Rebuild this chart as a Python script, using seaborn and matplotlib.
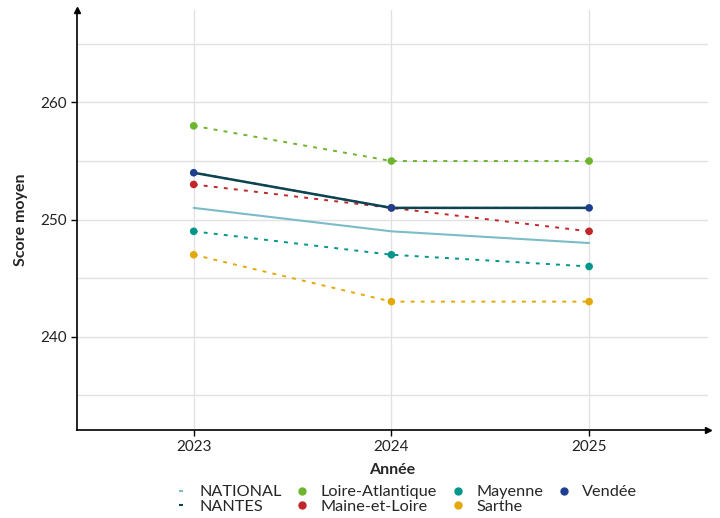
import numpy as np
import pandas as pd
import matplotlib
matplotlib.use('Agg')
import matplotlib.pyplot as plt
from matplotlib.lines import Line2D
from matplotlib.ticker import MultipleLocator
import seaborn as sns

years = [2023, 2024, 2025]
national = [251, 249, 248]
nantes = [254, 251, 251]
loire_atlantique = [258, 255, 255]
maine_et_loire = [253, 251, 249]
mayenne = [249, 247, 246]
vendee = [254, 251, 251]
sarthe = [247, 243, 243]

# (label, values, colour, is_department)
series = [
    ('Loire-Atlantique', loire_atlantique, '#6cb52d', True),
    ('Maine-et-Loire', maine_et_loire, '#c1262a', True),
    ('Mayenne', mayenne, '#00968a', True),
    ('Vendée', vendee, '#1e3f8f', True),
    ('Sarthe', sarthe, '#e3a90a', True),
    ('NATIONAL', national, '#7bbcc8', False),
    ('NANTES', nantes, '#0d4450', False),
]

sns.set_theme(style='white')
plt.rcParams['font.family'] = ['Lato', 'DejaVu Sans']

fig = plt.figure(figsize=(7.2, 5.18), dpi=100)
ax = fig.add_axes([0.107, 0.17, 0.876, 0.811])

for name, vals, col, dept in series:
    df = pd.DataFrame({'year': years, 'score': vals})
    if dept:
        sns.lineplot(data=df, x='year', y='score', ax=ax, color=col, lw=1.4,
                     dashes=False, linestyle=(0, (2.0, 3.2)), zorder=3)
        sns.scatterplot(data=df, x='year', y='score', ax=ax, color=col, s=30,
                        edgecolor='none', zorder=5)
    else:
        sns.lineplot(data=df, x='year', y='score', ax=ax, color=col,
                     lw=1.5 if name == 'NATIONAL' else 1.8, zorder=4)

ax.set_xlim(2022.41, 2025.6)
ax.set_ylim(232.05, 267.9)
ax.set_xticks(years)
ax.set_xticklabels([str(y) for y in years])
ax.yaxis.set_major_locator(MultipleLocator(10))
ax.yaxis.set_minor_locator(MultipleLocator(5))
ax.grid(True, which='major', color='#e2e2e2', lw=1.0)
ax.grid(True, which='minor', axis='y', color='#e2e2e2', lw=1.0)
ax.set_axisbelow(True)

for s in ['top', 'right']:
    ax.spines[s].set_visible(False)
for s in ['left', 'bottom']:
    ax.spines[s].set_color('black')
    ax.spines[s].set_linewidth(1.2)
ax.plot(1, 0, '>', color='black', ms=5, transform=ax.transAxes, clip_on=False)
ax.plot(0, 1, '^', color='black', ms=5, transform=ax.transAxes, clip_on=False)

ax.tick_params(axis='both', which='major', direction='out', length=4, width=1,
               color='black', labelsize=11, labelcolor='#222222', pad=3,
               bottom=True, left=True)
ax.tick_params(axis='y', which='minor', length=0)

ax.set_xlabel('Année', fontsize=11.5, fontweight='bold', labelpad=7)
ax.set_ylabel('Score moyen', fontsize=11.5, fontweight='bold', labelpad=9)

lookup = {name: (col, dept) for name, vals, col, dept in series}
order = ['NATIONAL', 'NANTES', 'Loire-Atlantique', 'Maine-et-Loire',
         'Mayenne', 'Sarthe', 'Vendée']
handles = []
for name in order:
    col, dept = lookup[name]
    if dept:
        handles.append(Line2D([], [], ls='none', marker='o', ms=5, color=col))
    else:
        handles.append(Line2D([], [], ls='none', marker='_', ms=3.5, mew=1.5, color=col))
fig.legend(handles, order, ncol=4, loc='center', bbox_to_anchor=(0.5625, 0.036),
           frameon=False, fontsize=11.7, handlelength=1.0, handletextpad=0.65,
           columnspacing=0.75, labelspacing=0.0, borderpad=0)

fig.savefig('out.png', dpi=100)
